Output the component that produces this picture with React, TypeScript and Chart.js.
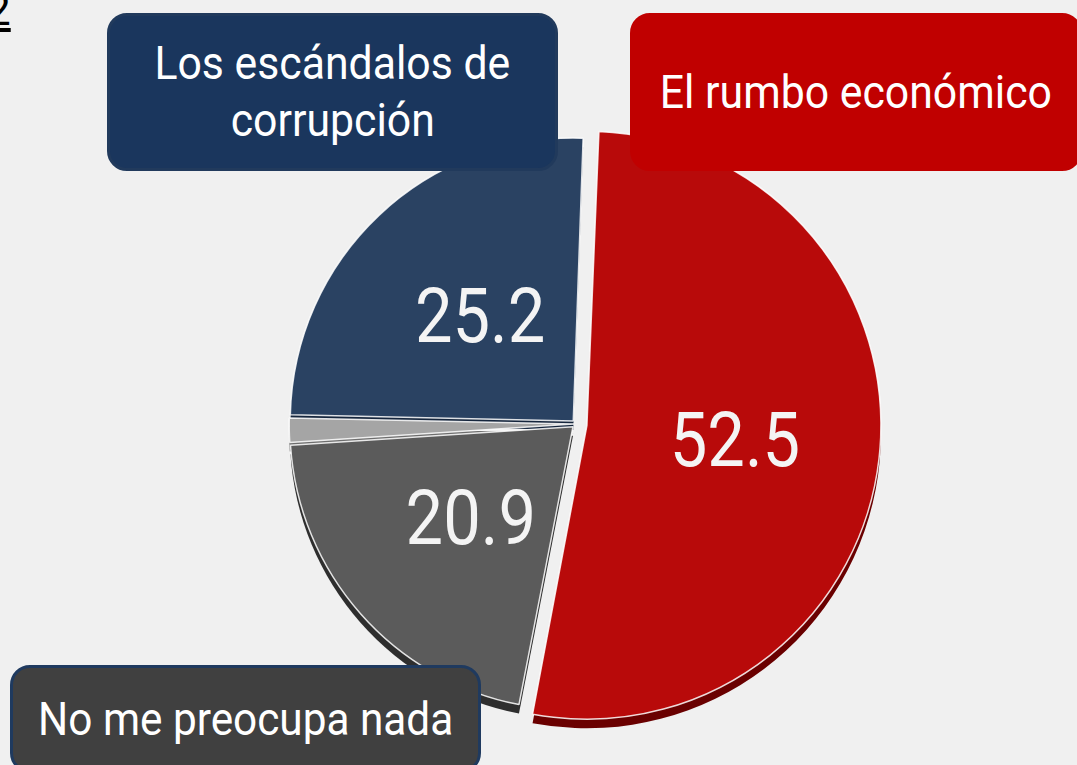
import React, { useEffect, useRef } from "react";
import { Chart, registerables } from "chart.js";

Chart.register(...registerables);

const categories = ["El rumbo económico", "No me preocupa nada", "NS/NC", "Los escándalos de corrupción"];
const values = [52.5, 20.9, 1.4, 25.2];
const valueLabels = ["52.5", "20.9", "", "25.2"];
const sliceColors = ["#b80a0a", "#5b5b5b", "#a5a5a5", "#2a4262"];
const sideColors = ["#6a0000", "#2e2e2e", "#6e6e6e", "#16263d"];
const sliceOffsets = [44, 16, 8, 16];

const BG = "#f0f0f0";

// same displacement / radius growth / angle trim Chart.js applies to an offset arc
function arcGeom(arc: any, off: number) {
  const p = arc.getProps(["x", "y", "startAngle", "endAngle", "circumference", "outerRadius"], true);
  const o = off / 4;
  const fix = 1 - Math.sin(Math.min(Math.PI, p.circumference || 0));
  const ro = o * fix;
  const mid = (p.startAngle + p.endAngle) / 2;
  const r = p.outerRadius + ro;
  const alpha = p.endAngle - p.startAngle;
  const beta = Math.max(0.001, alpha * r - ro / Math.PI) / r;
  const trim = (alpha - beta) / 2;
  return {
    cx: p.x + Math.cos(mid) * o,
    cy: p.y + Math.sin(mid) * o,
    r,
    start: p.startAngle + trim,
    end: p.endAngle - trim,
    mid,
  };
}

const sidePlugin = {
  id: "side3d",
  beforeDatasetsDraw(chart: any) {
    const ctx = chart.ctx;
    const meta = chart.getDatasetMeta(0);
    meta.data.forEach((arc: any, i: number) => {
      const g = arcGeom(arc, sliceOffsets[i]);
      ctx.save();
      ctx.fillStyle = sideColors[i];
      ctx.beginPath();
      ctx.moveTo(g.cx, g.cy + 9);
      ctx.arc(g.cx, g.cy + 9, g.r, g.start, g.end);
      ctx.closePath();
      ctx.fill();
      ctx.restore();
    });
  },
};

const valuePlugin = {
  id: "values",
  afterDatasetsDraw(chart: any) {
    const ctx = chart.ctx;
    const meta = chart.getDatasetMeta(0);
    meta.data.forEach((arc: any, i: number) => {
      const txt = valueLabels[i];
      if (!txt) return;
      const g = arcGeom(arc, sliceOffsets[i]);
      const r = g.r / 2;
      const x = g.cx + Math.cos(g.mid) * r;
      const y = g.cy + Math.sin(g.mid) * r;
      ctx.save();
      ctx.translate(x + (i === 0 ? 2 : 4), y + 5);
      ctx.scale(0.88, 1);
      ctx.font = "76px Roboto";
      ctx.fillStyle = "#f4f4f4";
      ctx.textAlign = "center";
      ctx.textBaseline = "middle";
      ctx.fillText(txt, 0, 0);
      ctx.restore();
    });
  },
};

function Box(props: { left: number; top: number; width: number; height: number; bg: string; border: string; lines: string[]; fontSize: number; lineHeight: number; sx: number }) {
  return (
    <div
      style={{
        position: "absolute",
        left: props.left,
        top: props.top,
        width: props.width,
        height: props.height,
        background: props.bg,
        border: `3px solid ${props.border}`,
        borderRadius: 20,
        boxSizing: "border-box",
        display: "flex",
        flexDirection: "column",
        alignItems: "center",
        justifyContent: "center",
        color: "#ffffff",
        fontFamily: "Roboto, sans-serif",
        fontSize: props.fontSize,
        lineHeight: `${props.lineHeight}px`,
      }}
    >
      {props.lines.map((l, k) => (
        <div key={k} style={{ transform: `scaleX(${props.sx})`, whiteSpace: "nowrap" }}>
          {l}
        </div>
      ))}
    </div>
  );
}

export default function App() {
  const ref = useRef<HTMLCanvasElement>(null);

  useEffect(() => {
    let chart: Chart | null = null;
    let cancelled = false;
    const make = () => {
      if (cancelled || !ref.current) return;
      chart = new Chart(ref.current, {
        type: "pie",
        data: {
          labels: categories,
          datasets: [
            {
              data: values,
              backgroundColor: sliceColors,
              borderColor: "rgba(255,255,255,0.85)",
              borderWidth: 1.5,
              offset: sliceOffsets,
            },
          ],
        },
        options: {
          responsive: false,
          animation: false,
          rotation: 2,
          radius: 283,
          layout: { padding: { left: 75, right: 0, top: 83, bottom: 0 } },
          plugins: {
            legend: { display: false },
            tooltip: { enabled: false },
          },
        },
        plugins: [sidePlugin, valuePlugin],
      } as any);
    };
    (document as any).fonts.load("76px Roboto").then(make, make);
    return () => {
      cancelled = true;
      if (chart) chart.destroy();
    };
  }, []);

  return (
    <div
      style={{
        position: "fixed",
        left: 0,
        top: 0,
        width: 1077,
        height: 765,
        background: BG,
        overflow: "hidden",
      }}
    >
      <div
        style={{
          position: "absolute",
          left: -14,
          top: -16,
          fontFamily: "Roboto, sans-serif",
          fontSize: 44,
          color: "#000",
          textDecoration: "underline",
        }}
      >
        2
      </div>
      <canvas ref={ref} width={1077} height={765} style={{ position: "absolute", left: 0, top: 0 }} />
      <Box left={107} top={13} width={451} height={158} bg="#1a365d" border="#213a5c" lines={["Los escándalos de", "corrupción"]} fontSize={46} lineHeight={57} sx={0.93} />
      <Box left={630} top={13} width={452} height={158} bg="#c00000" border="#c00000" lines={["El rumbo económico"]} fontSize={46} lineHeight={57} sx={0.93} />
      <Box left={10} top={665} width={471} height={108} bg="#404040" border="#1f3a5f" lines={["No me preocupa nada"]} fontSize={46} lineHeight={57} sx={0.92} />
    </div>
  );
}
